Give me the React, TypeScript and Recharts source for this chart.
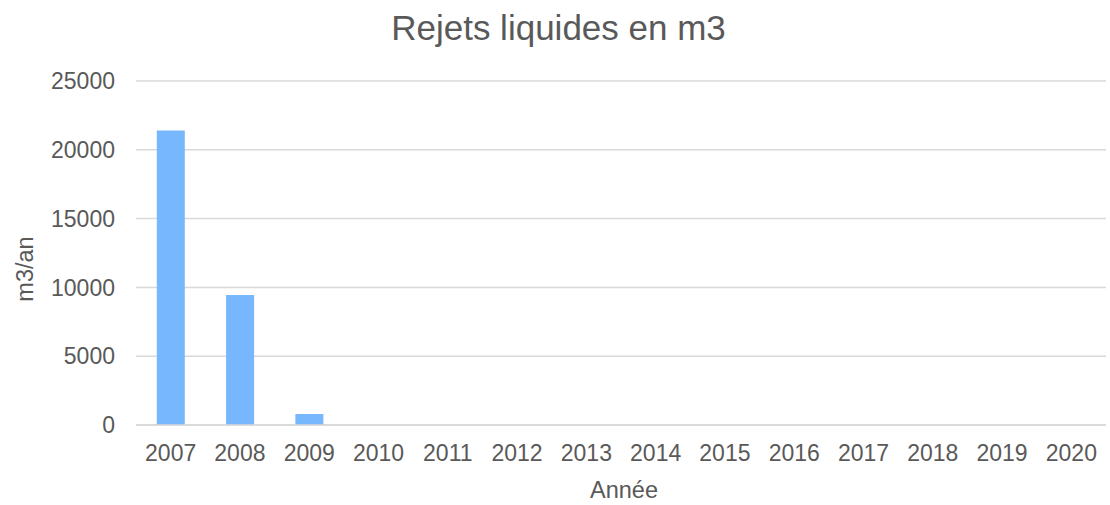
import React from 'react';
import { BarChart, Bar, XAxis, YAxis, CartesianGrid } from 'recharts';

const years = ['2007', '2008', '2009', '2010', '2011', '2012', '2013', '2014', '2015', '2016', '2017', '2018', '2019', '2020'];
const rejets = [21400, 9450, 800, 0, 0, 0, 0, 0, 0, 0, 0, 0, 0, 0];
const yTicks = [0, 5000, 10000, 15000, 20000, 25000];

const data = years.map((y, i) => ({ annee: y, value: rejets[i] }));

const FONT = '"Liberation Sans", Arial, sans-serif';
const TXT = '#595959';

export default function App() {
  return (
    <div style={{ position: 'absolute', left: 0, top: 0, width: 1110, height: 505, background: '#fff' }}>
      <BarChart
        width={1110}
        height={505}
        data={data}
        margin={{ top: 81, right: 4, left: 0, bottom: 50 }}
        barCategoryGap="30%"
      >
        <CartesianGrid vertical={false} stroke="#d9d9d9" strokeWidth={1.5} />
        <XAxis
          dataKey="annee"
          height={30}
          axisLine={{ stroke: '#d9d9d9', strokeWidth: 1.5 }}
          tickLine={false}
          tickSize={0}
          tickMargin={20}
          interval={0}
          tick={{ fill: TXT, fontSize: 23, fontFamily: FONT }}
        />
        <YAxis
          width={136}
          domain={[0, 25000]}
          ticks={yTicks}
          axisLine={false}
          tickLine={false}
          tickSize={0}
          tickMargin={21}
          tick={{ fill: TXT, fontSize: 23, fontFamily: FONT }}
        />
        <Bar dataKey="value" fill="#77b7fd" isAnimationActive={false} />
      </BarChart>
      <svg
        width={1110}
        height={505}
        style={{ position: 'absolute', left: 0, top: 0, pointerEvents: 'none' }}
      >
        <text x={558.5} y={40} textAnchor="middle" fill={TXT} fontSize={35} fontFamily={FONT}>
          Rejets liquides en m3
        </text>
        <text x={624} y={498} textAnchor="middle" fill={TXT} fontSize={23.5} fontFamily={FONT}>
          Année
        </text>
        <text
          x={33}
          y={269}
          textAnchor="middle"
          fill={TXT}
          fontSize={23.5}
          fontFamily={FONT}
          transform="rotate(-90, 33, 269)"
        >
          m3/an
        </text>
      </svg>
    </div>
  );
}
